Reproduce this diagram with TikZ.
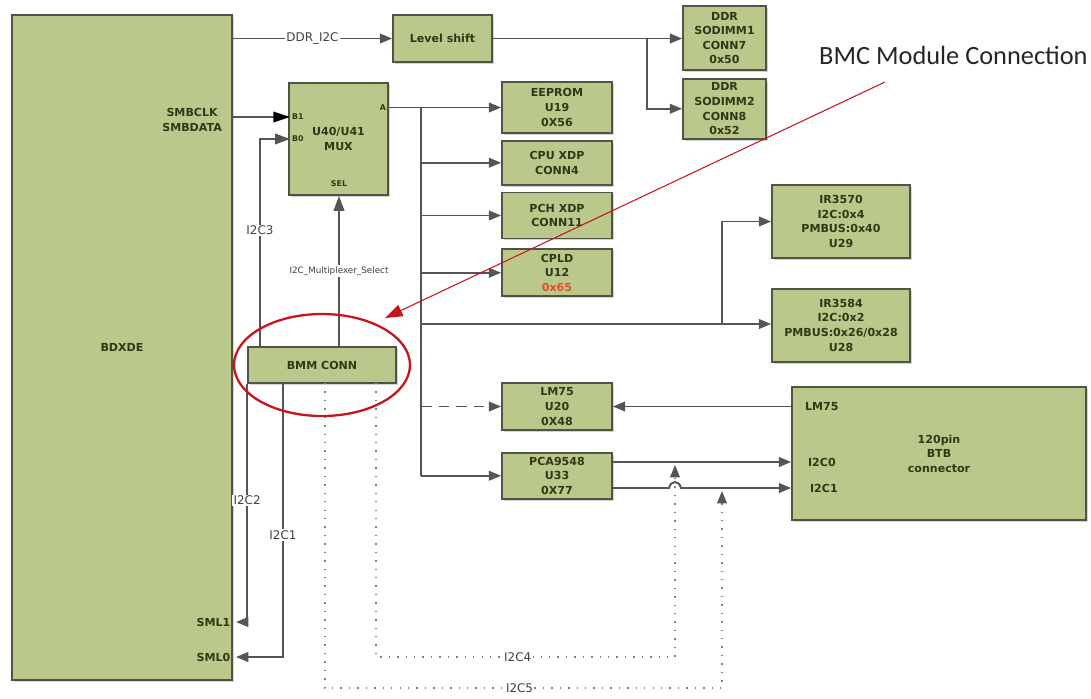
\documentclass[tikz,border=0pt]{standalone}
\usepackage{fontspec}
\setmainfont{DejaVu Sans}
\newfontfamily\notefont{Carlito}
\usetikzlibrary{arrows.meta, positioning, shadows}
\definecolor{boxfill}{RGB}{187,200,139}
\definecolor{boxline}{RGB}{80,84,70}
\definecolor{boxtext}{RGB}{48,56,22}
\definecolor{wiregray}{RGB}{85,85,85}
\definecolor{notered}{RGB}{200,20,30}
\definecolor{addrred}{RGB}{225,80,40}

\begin{document}
\begin{tikzpicture}[
    x=0.02cm, y=-0.02cm,
    blk/.style={rectangle, draw=boxline, line width=1pt, fill=boxfill, text=boxtext, align=center, inner sep=1pt, font=\bfseries\fontsize{6.3}{8.3}\selectfont, drop shadow={shadow xshift=1pt, shadow yshift=-1pt, opacity=0.35}},
    pinlbl/.style={text=boxtext, inner sep=1pt, font=\bfseries\fontsize{4.5}{5}\selectfont},
    sig/.style={text=boxtext, inner sep=1pt, align=center, font=\bfseries\fontsize{6.3}{8.3}\selectfont},
    lbl/.style={fill=white, text=black!75, inner sep=0.8pt, font=\fontsize{6.8}{8}\selectfont},
    wire/.style={draw=wiregray, line width=1.1pt},
    conn/.style={wire, -{Triangle[length=7pt, width=5.5pt]}},
    bigconn/.style={wire, -{Triangle[length=8.5pt, width=6pt]}},
    dotconn/.style={draw=wiregray!75, line width=0.8pt, dash pattern=on 0.8pt off 4pt, -{Triangle[length=7pt, width=5.5pt, color=wiregray]}},
    note/.style={draw=notered, line width=0.6pt}
]
\useasboundingbox (0,0) rectangle (1091,698);

% Blocks
\node[blk, minimum width=4.4cm, minimum height=13.3cm] (bdxde) at (122,347.5) {BDXDE};
\node[blk, minimum width=1.98cm, minimum height=0.94cm] (lvl) at (442.5,38.5) {Level shift};
\node[blk, minimum width=1.66cm, minimum height=1.28cm] (dimm1) at (724.5,38) {DDR\\SODIMM1\\CONN7\\0x50};
\node[blk, minimum width=1.66cm, minimum height=1.2cm, below=0.14cm of dimm1] (dimm2) {DDR\\SODIMM2\\CONN8\\0x52};
\node[blk, minimum width=1.98cm, minimum height=2.24cm] (mux) at (338.5,139) {U40/U41\\MUX};
\node[blk, minimum width=2.2cm, minimum height=1.02cm] (eeprom) at (557,107.5) {EEPROM\\U19\\0X56};
\node[blk, minimum width=2.2cm, minimum height=0.88cm, below=0.12cm of eeprom] (cpuxdp) {CPU XDP\\CONN4};
\node[blk, minimum width=2.2cm, minimum height=0.92cm, below=0.12cm of cpuxdp] (pchxdp) {PCH XDP\\CONN11};
\node[blk, minimum width=2.2cm, minimum height=0.94cm, below=0.18cm of pchxdp] (cpld) {CPLD\\U12\\\textcolor{addrred}{0x65}};
\node[blk, minimum width=2.76cm, minimum height=1.46cm] (ir70) at (841,221.5) {IR3570\\I2C:0x4\\PMBUS:0x40\\U29};
\node[blk, minimum width=2.76cm, minimum height=1.46cm, below=0.58cm of ir70] (ir84) {IR3584\\I2C:0x2\\PMBUS:0x26/0x28\\U28};
\node[blk, minimum width=2.2cm, minimum height=0.94cm] (lm) at (557,406.5) {LM75\\U20\\0X48};
\node[blk, minimum width=2.2cm, minimum height=0.92cm, below=0.42cm of lm] (pca) {PCA9548\\U33\\0X77};
\node[blk, minimum width=5.88cm, minimum height=2.66cm] (btb) at (939,453.5) {120pin\\BTB\\connector};
\node[blk, minimum width=2.96cm, minimum height=0.72cm] (bmm) at (322,365) {BMM CONN};

% Pin names
\node[sig, anchor=east] (smb) at (224,120) {SMBCLK\\SMBDATA};
\node[sig, anchor=east, inner xsep=3pt] (sml1) at (236,622) {SML1};
\node[sig, anchor=east, inner xsep=3pt] (sml0) at (236,657) {SML0};
\node[pinlbl, anchor=west] (b1) at (290,117) {B1};
\node[pinlbl, anchor=west] (b0) at (290,139) {B0};
\node[pinlbl, anchor=east] (pa) at (388,107.5) {A};
\node[pinlbl] (sel) at (339,184) {SEL};
\node[sig, anchor=west] (btblm) at (803,406.5) {LM75};
\node[sig, anchor=west] (btbi0) at (806,462) {I2C0};
\node[sig, anchor=west] (btbi1) at (808,488) {I2C1};

% Junctions
\coordinate (ddrsplit) at (647,38.5);
\coordinate (bus) at (421,107.5);
\coordinate (irsplit) at (722,324);
\coordinate (c3) at (260,347);
\coordinate (c1) at (283,383);
\coordinate (c4) at (376,383);
\coordinate (c5) at (325,383);
\coordinate (hopin) at (669,488);
\coordinate (hopout) at (681,488);
\coordinate (up4) at (675,465);
\coordinate (up5) at (722,491);

% Arrows
\draw[conn] (bdxde.east |- lvl) -- node[lbl]{DDR\_I2C} (lvl);
\draw[conn] (lvl.east) -- (dimm1.west |- lvl.east);
\draw[conn] (ddrsplit) |- (dimm2);
\draw[wire, -{Triangle[length=9.5pt, width=6pt, color=black]}] (bdxde.east |- b1) -- (b1.west);
\draw[bigconn] (c3) |- node[lbl, pos=0.28]{I2C3} (b0.west);
\draw[bigconn] (bmm.north -| sel) -- node[lbl, font=\fontsize{5}{6}\selectfont]{I2C\_Multiplexer\_Select} (mux.south -| sel);
\draw[conn] (bmm.south west) |- node[lbl, pos=0.245]{I2C2} (sml1.east);
\draw[conn] (c1) |- node[lbl, pos=0.277]{I2C1} (sml0.east);

\draw[conn] (mux.east |- eeprom) -- (eeprom);
\draw[wire] (bus) -- (bus |- pca);
\foreach \dev in {cpuxdp, pchxdp, cpld, pca}
  \draw[conn] (bus |- \dev) -- (\dev);
\draw[conn, dash pattern=on 6pt off 4pt] (bus |- lm) -- (lm);
\draw[wire] (bus |- irsplit) -- (irsplit);
\draw[conn] (irsplit) -- (ir84.west |- irsplit);
\draw[conn] (irsplit) |- (ir70);

\draw[conn] (btb.west |- btblm) -- (lm.east |- btblm);
\draw[conn] (pca.east |- btbi0) -- (btb.west |- btbi0);
\draw[conn] (pca.east |- btbi1) -- (hopin) .. controls (671,480) and (679,480) .. (hopout) -- (btb.west |- btbi1);

\draw[dotconn] (c4) -- ++(0,274) -| node[lbl, pos=0.237]{I2C4} (up4);
\draw[dotconn] (c5) -- ++(0,305) -| node[lbl, pos=0.245]{I2C5} (up5);

% Annotation
\node[font=\notefont\fontsize{15}{18}\selectfont, text=black!85, anchor=east, inner sep=0pt] (bmcnote) at (1088,55) {BMC Module Connection};
\coordinate (notetail) at (885,82);
\coordinate (notetip) at (385,318);
\draw[note, -{Triangle[length=10pt, width=7pt]}] (notetail) -- (notetip);
\draw[note, line width=1.3pt] (bmm) ellipse [x radius=1.76cm, y radius=1.02cm];
\end{tikzpicture}
\end{document}
